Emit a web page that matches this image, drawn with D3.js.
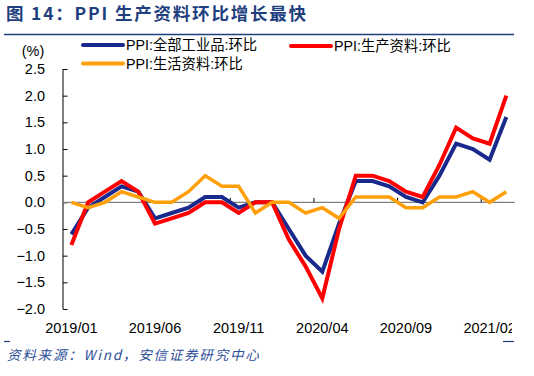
<!DOCTYPE html>
<html><head><meta charset="utf-8">
<script src="https://cdn.jsdelivr.net/npm/d3@7"></script>
<style>body{margin:0;background:#fff}svg{display:block}</style>
</head><body>
<script>
const months = ["2019/01","2019/02","2019/03","2019/04","2019/05","2019/06","2019/07","2019/08","2019/09","2019/10","2019/11","2019/12",
"2020/01","2020/02","2020/03","2020/04","2020/05","2020/06","2020/07","2020/08","2020/09","2020/10","2020/11","2020/12",
"2021/01","2021/02","2021/03"];
const allIndustrial = [-0.6,-0.1,0.1,0.3,0.2,-0.3,-0.2,-0.1,0.1,0.1,-0.1,0.0,0.0,-0.5,-1.0,-1.3,-0.4,0.4,0.4,0.3,0.1,0.0,0.5,1.1,1.0,0.8,1.6];
const production   = [-0.8,0.0,0.2,0.4,0.2,-0.4,-0.3,-0.2,0.0,0.0,-0.2,0.0,0.0,-0.7,-1.2,-1.8,-0.5,0.5,0.5,0.4,0.2,0.1,0.7,1.4,1.2,1.1,2.0];
const living       = [0.0,-0.1,0.0,0.2,0.1,0.0,0.0,0.2,0.5,0.3,0.3,-0.2,0.0,0.0,-0.2,-0.1,-0.3,0.1,0.1,0.1,-0.1,-0.1,0.1,0.1,0.2,0.0,0.2];
const yTicks = [2.5,2.0,1.5,1.0,0.5,0.0,-0.5,-1.0,-1.5,-2.0];
const xLabels = ["2019/01","2019/06","2019/11","2020/04","2020/09","2021/02"];
const seriesNames = ["PPI:全部工业品:环比","PPI:生产资料:环比","PPI:生活资料:环比"];

const W=534,H=376;
const svg=d3.select("body").append("svg").attr("width",W).attr("height",H);
const font="Liberation Sans, Arial, sans-serif";
const cjk="'Noto Sans CJK SC', sans-serif";

// title
svg.append("text").attr("x",6).attr("y",20).attr("font-family",cjk).attr("font-weight","bold")
  .attr("font-size",17.5).attr("letter-spacing",1.8).attr("fill","#1F3F7F").text("图 14：PPI 生产资料环比增长最快");
svg.append("line").attr("x1",4).attr("x2",514).attr("y1",34.5).attr("y2",34.5).attr("stroke","#1F3F7F").attr("stroke-width",1.5);

const x=d3.scaleBand().domain(months).range([63,514.7]);
const y=d3.scaleLinear().domain([-2,2.5]).range([309,69]);

// clip for x labels
svg.append("clipPath").attr("id","clip").append("rect").attr("x",0).attr("y",0).attr("width",512).attr("height",H);

// y axis
const yAx=svg.append("g").attr("transform","translate(63,0)")
  .call(d3.axisLeft(y).tickValues(yTicks).tickSize(-4.5).tickPadding(18).tickFormat(d3.format(".1f")));
yAx.select(".domain").attr("stroke","#000").attr("d","M0,"+y(2.5)+"V"+y(-2));
yAx.selectAll(".tick line").attr("stroke","#000");
yAx.selectAll("text").attr("font-family",font).attr("font-size",14.5).attr("fill","#000").attr("dx","0");
svg.append("text").attr("x",33).attr("y",56).attr("text-anchor","middle").attr("font-family",font).attr("font-size",14.5).text("(%)");

// zero line with ticks at category boundaries
const zg=svg.append("g").attr("transform","translate(0,"+y(0)+")");
zg.append("line").attr("x1",63).attr("x2",514.7).attr("stroke","#808080").attr("stroke-width",1.3);
const bw=x.bandwidth();
months.forEach((m,i)=>{ if(i%5===0 && i>0){ zg.append("line").attr("x1",x(m)).attr("x2",x(m)).attr("y1",0).attr("y2",-4.5).attr("stroke","#000"); }});

// x labels
const xl=svg.append("g").attr("clip-path","url(#clip)");
xLabels.forEach(l=>{
  xl.append("text").attr("x",x(l)+bw/2).attr("y",333).attr("text-anchor","middle")
    .attr("font-family",font).attr("font-size",14.5).attr("fill","#000").text(l);
});

// lines
const line=d3.line().x((d,i)=>x(months[i])+bw/2).y(d=>y(d));
const cols=["#1A2A8C","#FF0000","#FFA00A"];
[allIndustrial,production,living].forEach((s,k)=>{
  svg.append("path").datum(s).attr("d",line).attr("fill","none").attr("stroke",cols[k])
    .attr("stroke-width",k===2?3.5:4).attr("stroke-linejoin","miter");
});

// legend
const leg=[{x:83,y:45,k:0},{x:291,y:46,k:1},{x:83,y:63.5,k:2}];
leg.forEach(o=>{
  svg.append("line").attr("x1",o.x).attr("x2",o.x+40).attr("y1",o.y).attr("y2",o.y).attr("stroke",cols[o.k]).attr("stroke-width",4).attr("stroke-linecap","round");
  svg.append("text").attr("x",o.x+43).attr("y",o.y+5).attr("font-family",font+","+cjk).attr("font-size",14.3).attr("fill","#000").text(seriesNames[o.k]);
});

// bottom
svg.append("line").attr("x1",4).attr("x2",10).attr("y1",341.5).attr("y2",341.5).attr("stroke","#1F3F7F").attr("stroke-width",1.2);
svg.append("line").attr("x1",503).attr("x2",514).attr("y1",341.5).attr("y2",341.5).attr("stroke","#1F3F7F").attr("stroke-width",1.2);
svg.append("text").attr("x",7).attr("y",360).attr("font-family",cjk).attr("font-style","italic").attr("font-size",13.5)
  .attr("letter-spacing",1.8).attr("fill","#2E4F9A").text("资料来源：Wind，安信证券研究中心");
</script>
</body></html>
